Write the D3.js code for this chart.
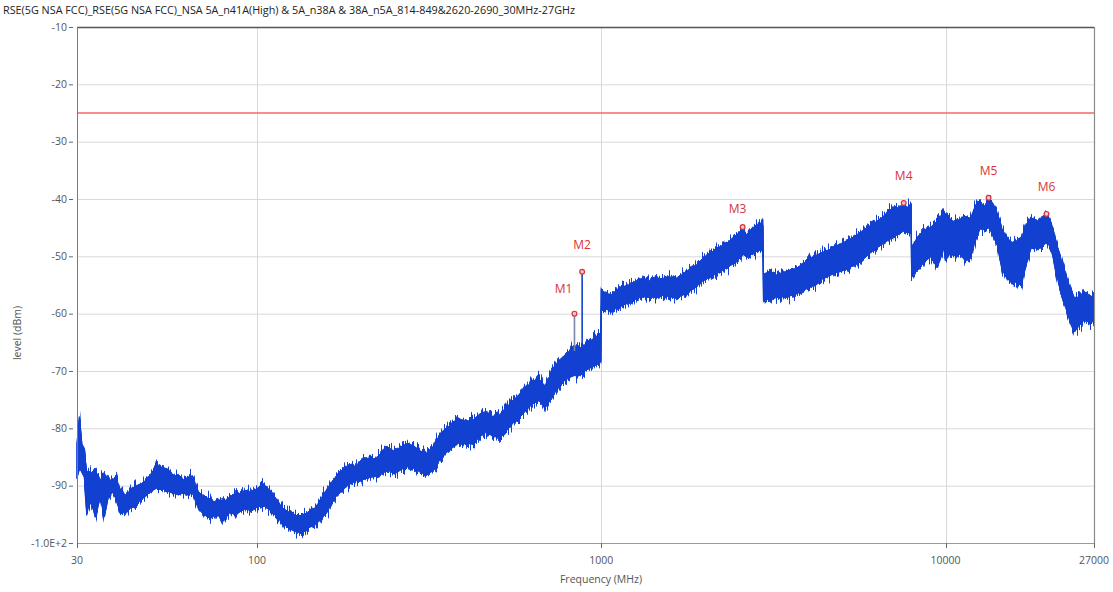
<!DOCTYPE html>
<html>
<head>
<meta charset="utf-8">
<script src="https://cdn.jsdelivr.net/npm/d3@7"></script>
<style>
  body { margin: 0; background: #ffffff; }
  svg { display: block; }
  text { font-family: "Open Sans", "Noto Sans", "Liberation Sans", sans-serif; }
</style>
</head>
<body>
<svg id="chart" width="1113" height="592"></svg>
<script>
// Spectrum sweep, 30 MHz - 27 GHz: frequency (MHz) with the upper and lower
// edge of the measured trace (dBm) at each frequency.
const freqs = [
  30, 30.5, 31, 31.5, 32, 32.5, 33, 34, 35, 36, 37, 38, 39, 40, 41.5, 43, 44.5, 46, 47.5, 49,
  51, 53, 55, 57, 59, 61, 63, 65, 67.5, 70, 72.5, 75, 77.5, 80, 83, 86, 89, 92, 95, 98,
  100, 104, 109, 114, 119, 124, 130, 136, 142, 148, 155, 162, 169, 177, 185, 193, 202, 211, 220, 230,
  240, 251, 262, 274, 286, 299, 312, 326, 341, 356, 372, 389, 406, 424, 443, 463, 484, 506, 529, 552,
  577, 603, 630, 658, 688, 719, 751, 785, 820, 836, 857, 880, 895, 935, 977, 998,
  1000, 1030, 1070, 1110, 1160, 1210, 1260, 1320, 1380, 1440, 1500, 1570, 1640, 1710, 1790, 1870, 1950, 2040, 2130, 2230,
  2330, 2430, 2540, 2575, 2650, 2770, 2890, 2950, 2960, 3090, 3230, 3370, 3520, 3680, 3840, 4010, 4190, 4380, 4570, 4780,
  4990, 5210, 5440, 5690, 5940, 6200, 6480, 6770, 7070, 7380, 7560, 7720, 7950, 7970, 8300, 8670, 9060, 9460, 9880,
  10000, 10350, 10700, 11050, 11400, 11800, 12200, 12600, 13000, 13340, 13700, 14150, 14600, 15100, 15600, 16100, 16600, 17150, 17700, 18300,
  18900, 19650, 20300, 20900, 21600, 22300, 23000, 23700, 24400, 25200, 26000, 26600, 27000
];
const levelHigh = [
  -82.6, -78.0, -83.0, -84.0, -87.5, -87.5, -87.7, -87.5, -89.0, -88.0, -89.0, -89.0, -88.5, -90.7, -91.6, -90.7, -90.0, -89.7, -89.1, -88.5,
  -86.2, -86.8, -87.1, -88.5, -88.0, -89.0, -88.5, -88.3, -91.0, -92.0, -92.2, -92.8, -92.5, -92.8, -92.0, -91.4, -91.4, -90.8, -91.0, -90.8,
  -90.5, -89.6, -90.8, -92.4, -94.0, -94.6, -95.2, -95.2, -94.4, -93.8, -91.8, -90.0, -88.5, -87.2, -86.3, -86.6, -85.4, -85.2, -85.3, -84.3,
  -83.3, -84.0, -83.2, -82.6, -83.1, -84.0, -84.3, -83.2, -80.8, -79.9, -79.0, -78.4, -78.7, -78.6, -77.5, -77.0, -77.9, -77.6, -76.4, -75.2,
  -74.1, -73.0, -71.8, -71.4, -72.6, -70.0, -68.2, -67.2, -66.2, -65.8, -66.4, -65.6, -65.4, -64.6, -63.8, -63.2,
  -55.8, -56.4, -56.7, -55.8, -55.3, -54.9, -54.3, -53.8, -54.2, -53.7, -53.9, -53.5, -53.9, -53.2, -52.4, -51.8, -50.6, -49.6, -49.0, -48.2,
  -47.6, -46.6, -45.6, -45.4, -46.3, -44.9, -44.1, -44.6, -53.1, -52.6, -53.2, -52.8, -52.4, -52.1, -51.4, -50.4, -49.9, -49.3, -48.9, -48.3,
  -47.7, -47.2, -46.5, -45.7, -44.9, -44.2, -43.4, -42.4, -41.4, -41.6, -41.0, -41.5, -40.8, -48.4, -46.6, -45.4, -44.9, -43.8, -42.2,
  -42.6, -43.7, -44.0, -43.4, -43.2, -43.5, -41.2, -40.6, -41.2, -40.0, -40.6, -42.5, -45.2, -46.8, -47.6, -47.3, -46.8, -44.5, -43.2, -43.8,
  -43.9, -42.4, -44.2, -47.2, -50.2, -52.8, -55.5, -57.4, -57.0, -56.2, -56.6, -57.0, -56.8
];
const levelLow = [
  -88.5, -87.0, -87.7, -88.5, -95.0, -93.5, -93.0, -95.5, -92.0, -95.5, -92.0, -91.0, -92.4, -94.7, -94.7, -93.9, -93.4, -92.4, -91.9, -91.0,
  -90.5, -90.5, -91.0, -91.3, -91.6, -91.3, -91.6, -91.3, -94.0, -95.0, -95.6, -95.3, -95.3, -96.2, -94.8, -94.6, -94.6, -94.0, -94.3, -94.0,
  -93.8, -93.4, -94.3, -95.4, -96.6, -97.5, -98.1, -98.2, -97.3, -96.8, -95.6, -94.0, -92.0, -90.8, -89.8, -89.2, -89.0, -88.6, -88.4, -88.0,
  -87.3, -88.0, -87.2, -86.7, -87.0, -87.7, -88.1, -87.3, -85.3, -84.0, -83.3, -82.4, -82.6, -82.8, -81.5, -80.7, -81.4, -81.6, -80.5, -79.2,
  -78.2, -77.0, -75.8, -75.2, -76.2, -74.8, -72.6, -71.6, -71.0, -70.8, -70.9, -70.5, -70.0, -69.4, -68.8, -68.4,
  -59.4, -59.2, -59.6, -59.0, -58.5, -58.0, -57.5, -57.0, -57.2, -57.1, -56.8, -57.0, -57.3, -56.9, -56.2, -55.6, -54.5, -53.8, -53.2, -52.6,
  -51.9, -51.2, -50.2, -49.6, -50.2, -49.4, -48.9, -49.2, -57.6, -57.5, -57.2, -57.1, -56.9, -56.6, -56.0, -55.5, -54.9, -54.0, -53.5, -52.9,
  -52.6, -52.0, -51.6, -50.9, -49.8, -48.9, -48.1, -47.3, -46.6, -46.0, -45.6, -45.8, -46.0, -53.6, -52.4, -51.0, -50.1, -52.0, -48.6,
  -50.8, -49.4, -50.0, -49.6, -50.8, -50.4, -47.4, -45.2, -45.4, -45.0, -46.2, -48.2, -52.4, -53.9, -54.5, -54.3, -55.2, -51.5, -48.7, -48.4,
  -48.6, -47.6, -48.6, -52.6, -56.2, -58.4, -61.4, -63.2, -62.2, -61.2, -61.4, -61.6, -61.0
];

// Discrete emissions that stand out of the trace near 836 and 880 MHz.
const spikeFreqs = [836, 880];
const spikeTops = [-60.0, -52.7];
const spikeBases = [-66.5, -67.0];

// Peak markers
const markerNames = ["M1", "M2", "M3", "M4", "M5", "M6"];
const markerFreqs = [836, 880, 2575, 7560, 13340, 19650];
const markerLevels = [-60.0, -52.7, -44.9, -40.7, -39.8, -42.6];

// Limit line
const limitLevel = -25;

// Axes
const yTicks = [-10, -20, -30, -40, -50, -60, -70, -80, -90, -100];
const yTickLabels = ["-10", "-20", "-30", "-40", "-50", "-60", "-70", "-80", "-90", "-1.0E+2"];
const xTicks = [30, 100, 1000, 10000, 27000];
const xTickLabels = ["30", "100", "1000", "10000", "27000"];

const titleText = "RSE(5G NSA FCC)_RSE(5G NSA FCC)_NSA 5A_n41A(High) & 5A_n38A & 38A_n5A_814-849&2620-2690_30MHz-27GHz";

// ---- layout ----
const plot = { left: 77, right: 1094, top: 27, bottom: 543 };
const traceColor = "#1240d0";
const markerColor = "#d9343a";
const limitColor = "#f06a66";

const svg = d3.select("#chart");

// Sweep texture: the trace band is drawn with a fine per-column vertical
// jitter so it reads like a dense analyser sweep rather than a flat ribbon.
const defs = svg.append("defs");
function sweepFilter(id, seed) {
  const f = defs.append("filter").attr("id", id)
    .attr("x", "-1%").attr("y", "-20%").attr("width", "102%").attr("height", "140%")
    .attr("color-interpolation-filters", "sRGB");
  f.append("feTurbulence").attr("type", "fractalNoise")
    .attr("baseFrequency", "0.85 0.004").attr("numOctaves", 2).attr("seed", seed).attr("result", "n");
  f.append("feColorMatrix").attr("in", "n").attr("type", "matrix")
    .attr("values", "0 0 0 0 0.5  0 1.6 0 0 -0.3  0 0 0 0 0  0 0 0 0 1").attr("result", "m");
  f.append("feDisplacementMap").attr("in", "SourceGraphic").attr("in2", "m")
    .attr("scale", 16).attr("xChannelSelector", "R").attr("yChannelSelector", "G");
}
sweepFilter("sweepA", 4);
sweepFilter("sweepB", 11);

const x = d3.scaleLog().domain([30, 27000]).range([plot.left, plot.right]);
const y = d3.scaleLinear().domain([-100, -10]).range([plot.bottom, plot.top]);

// Title
svg.append("text")
  .attr("x", 3).attr("y", 14)
  .attr("font-size", 10.5)
  .attr("fill", "#222")
  .attr("textLength", 572)
  .attr("lengthAdjust", "spacingAndGlyphs")
  .text(titleText);

// Grid
const grid = svg.append("g");
grid.selectAll("line.hy").data(yTicks.filter(v => v > -100 && v < -10)).join("line")
  .attr("x1", plot.left).attr("x2", plot.right)
  .attr("y1", d => y(d) + 0.5).attr("y2", d => y(d) + 0.5)
  .attr("stroke", "#d9d9d9").attr("stroke-width", 1);
grid.selectAll("line.vx").data(xTicks.filter(v => v > 30 && v < 27000)).join("line")
  .attr("x1", d => Math.round(x(d)) + 0.5).attr("x2", d => Math.round(x(d)) + 0.5)
  .attr("y1", plot.top).attr("y2", plot.bottom)
  .attr("stroke", "#d9d9d9").attr("stroke-width", 1);

// Limit line
svg.append("line")
  .attr("x1", plot.left + 1).attr("x2", plot.right)
  .attr("y1", y(limitLevel)).attr("y2", y(limitLevel))
  .attr("stroke", limitColor).attr("stroke-width", 1.6);

// Trace
const traceData = freqs.map((f, i) => ({ f, hi: levelHigh[i], lo: levelLow[i] }));
const area = d3.area()
  .x(d => x(d.f))
  .y0(d => y(d.lo))
  .y1(d => y(d.hi));
const trace = svg.append("g");
["sweepA", "sweepB", null].forEach(fid => {
  const p = trace.append("path")
    .datum(traceData)
    .attr("d", area)
    .attr("fill", traceColor)
    .attr("stroke", traceColor)
    .attr("stroke-width", 1)
    .attr("stroke-linejoin", "miter");
  if (fid) p.attr("filter", `url(#${fid})`);
});

// Spikes
svg.selectAll("line.spike").data(spikeFreqs).join("line")
  .attr("class", "spike")
  .attr("x1", d => x(d)).attr("x2", d => x(d))
  .attr("y1", (d, i) => y(spikeBases[i])).attr("y2", (d, i) => y(spikeTops[i]))
  .attr("stroke", (d, i) => i === 0 ? "#7c86a8" : traceColor)
  .attr("stroke-width", 1.6);

// Frame
svg.append("line").attr("x1", plot.left).attr("x2", plot.right)
  .attr("y1", plot.top + 0.5).attr("y2", plot.top + 0.5)
  .attr("stroke", "#555").attr("stroke-width", 1.5);
svg.append("line").attr("x1", plot.left).attr("x2", plot.right)
  .attr("y1", plot.bottom + 0.5).attr("y2", plot.bottom + 0.5)
  .attr("stroke", "#9a9a9a").attr("stroke-width", 1);
svg.append("line").attr("x1", plot.left + 0.5).attr("x2", plot.left + 0.5)
  .attr("y1", plot.top).attr("y2", plot.bottom + 4)
  .attr("stroke", "#7a7a7a").attr("stroke-width", 1);
svg.append("line").attr("x1", plot.right + 0.5).attr("x2", plot.right + 0.5)
  .attr("y1", plot.top).attr("y2", plot.bottom)
  .attr("stroke", "#8a8a8a").attr("stroke-width", 1.2);

// Y axis ticks and labels
const yAxis = svg.append("g");
yAxis.selectAll("line").data(yTicks).join("line")
  .attr("x1", 69).attr("x2", 73)
  .attr("y1", d => y(d) + 0.5).attr("y2", d => y(d) + 0.5)
  .attr("stroke", "#666").attr("stroke-width", 1);
yAxis.selectAll("text").data(yTicks).join("text")
  .attr("x", 67).attr("y", d => y(d))
  .attr("dy", "0.35em")
  .attr("text-anchor", "end")
  .attr("font-size", 10.5)
  .attr("fill", "#555")
  .text((d, i) => yTickLabels[i]);

// X axis ticks and labels
const xAxis = svg.append("g");
xAxis.selectAll("line").data(xTicks).join("line")
  .attr("x1", d => Math.round(x(d)) + 0.5).attr("x2", d => Math.round(x(d)) + 0.5)
  .attr("y1", plot.bottom).attr("y2", plot.bottom + 5)
  .attr("stroke", "#666").attr("stroke-width", 1);
xAxis.selectAll("text").data(xTicks).join("text")
  .attr("x", d => x(d)).attr("y", 564)
  .attr("text-anchor", "middle")
  .attr("font-size", 10.5)
  .attr("fill", "#555")
  .text((d, i) => xTickLabels[i]);

// Axis titles
svg.append("text")
  .attr("x", 601).attr("y", 583)
  .attr("text-anchor", "middle")
  .attr("font-size", 10.5)
  .attr("fill", "#555")
  .text("Frequency (MHz)");
svg.append("text")
  .attr("transform", "translate(21,333) rotate(-90)")
  .attr("text-anchor", "middle")
  .attr("font-size", 10.5)
  .attr("fill", "#555")
  .text("level (dBm)");

// Markers
const labelShift = { M1: [-11, -21], M3: [-5, -14] };
const markers = svg.append("g");
markers.selectAll("circle").data(markerFreqs).join("circle")
  .attr("cx", d => x(d))
  .attr("cy", (d, i) => y(markerLevels[i]))
  .attr("r", 2.4)
  .attr("fill", "#f2c4c4")
  .attr("stroke", markerColor)
  .attr("stroke-width", 1.2);
markers.selectAll("text").data(markerFreqs).join("text")
  .attr("x", (d, i) => x(d) + (labelShift[markerNames[i]] || [0, -23])[0])
  .attr("y", (d, i) => y(markerLevels[i]) + (labelShift[markerNames[i]] || [0, -23])[1])
  .attr("text-anchor", "middle")
  .attr("font-size", 12)
  .attr("fill", markerColor)
  .text((d, i) => markerNames[i]);
</script>
</body>
</html>
